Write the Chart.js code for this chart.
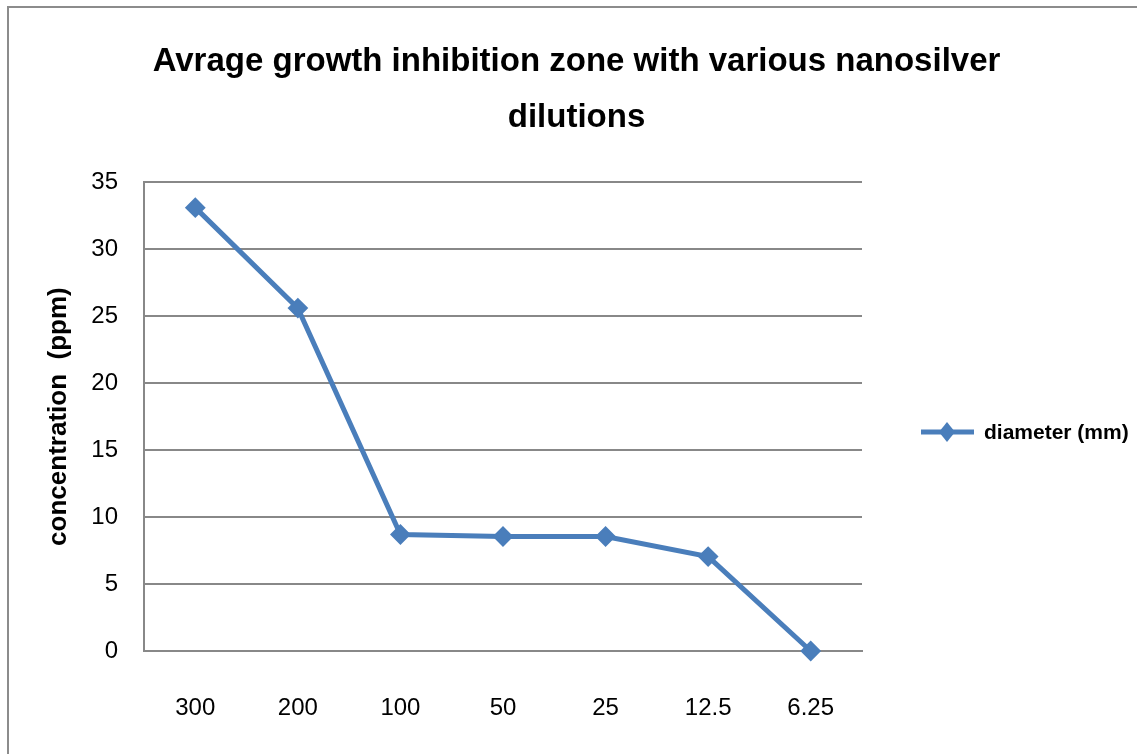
<!DOCTYPE html>
<html>
<head>
<meta charset="utf-8">
<script src="https://cdn.jsdelivr.net/npm/chart.js@4"></script>
<style>
  html, body { margin: 0; padding: 0; background: #fff; }
  #wrap { position: relative; width: 1137px; height: 754px; }
</style>
</head>
<body>
<div id="wrap"><canvas id="c" width="1137" height="754"></canvas></div>
<script>
const categories = ["300", "200", "100", "50", "25", "12.5", "6.25"];
const diameterValues = [33.1, 25.6, 8.7, 8.55, 8.55, 7.05, 0];
const yTicks = [0, 5, 10, 15, 20, 25, 30, 35];
const titleLines = ["Avrage growth inhibition zone with various nanosilver", "dilutions"];
const yAxisTitle = "concentration  (ppm)";
const seriesLabel = "diameter (mm)";

const SERIES_COLOR = "#4a7ebb";
const GRID_COLOR = "#888888";

const framePlugin = {
  id: "frame",
  beforeDraw(chart) {
    const ctx = chart.ctx;
    ctx.save();
    ctx.fillStyle = "#ffffff";
    ctx.fillRect(0, 0, chart.width, chart.height);
    ctx.strokeStyle = "#8c8c8c";
    ctx.lineWidth = 2;
    ctx.beginPath();
    ctx.moveTo(8, chart.height);
    ctx.lineTo(8, 7);
    ctx.lineTo(chart.width, 7);
    ctx.stroke();
    ctx.restore();
  }
};

const legendPlugin = {
  id: "sideLegend",
  afterDraw(chart) {
    const ctx = chart.ctx;
    const ds = chart.data.datasets[0];
    const y = 432;
    ctx.save();
    ctx.strokeStyle = ds.borderColor;
    ctx.lineWidth = 5;
    ctx.beginPath();
    ctx.moveTo(921, y);
    ctx.lineTo(974, y);
    ctx.stroke();
    ctx.fillStyle = ds.borderColor;
    ctx.beginPath();
    ctx.moveTo(947, y - 10);
    ctx.lineTo(955, y);
    ctx.lineTo(947, y + 10);
    ctx.lineTo(939, y);
    ctx.closePath();
    ctx.fill();
    ctx.fillStyle = "#000";
    ctx.font = "bold 21px 'Liberation Sans', sans-serif";
    ctx.textBaseline = "middle";
    ctx.textAlign = "left";
    ctx.fillText(ds.label, 984, y + 1);
    ctx.restore();
  }
};

new Chart(document.getElementById("c"), {
  type: "line",
  data: {
    labels: categories,
    datasets: [{
      label: seriesLabel,
      data: diameterValues,
      borderColor: SERIES_COLOR,
      backgroundColor: SERIES_COLOR,
      borderWidth: 5,
      pointStyle: "rectRot",
      pointRadius: 9,
      pointBorderWidth: 2,
      pointBackgroundColor: SERIES_COLOR,
      pointBorderColor: SERIES_COLOR,
      tension: 0,
      fill: false,
      clip: false,
      yAxisID: "y"
    }]
  },
  options: {
    responsive: false,
    animation: false,
    devicePixelRatio: 1,
    layout: { padding: { left: 16, right: 0, top: 0, bottom: 0 } },
    plugins: {
      legend: { display: false },
      tooltip: { enabled: false },
      title: {
        display: true,
        text: titleLines,
        color: "#000",
        font: { family: "'Liberation Sans', sans-serif", size: 33, weight: "bold", lineHeight: 1.7 },
        padding: { top: 34, bottom: 36 }
      }
    },
    scales: {
      x: {
        offset: true,
        grid: { display: false, drawTicks: false },
        border: { display: true, color: GRID_COLOR, width: 2 },
        ticks: {
          color: "#000",
          padding: 43,
          font: { family: "'Liberation Sans', sans-serif", size: 24 }
        },
        afterFit(scale) { scale.height = 103; }
      },
      y: {
        min: 0,
        max: 35,
        afterBuildTicks(scale) { scale.ticks = yTicks.map(v => ({ value: v })); },
        grid: { color: GRID_COLOR, lineWidth: 2, drawTicks: false },
        border: { display: true, color: GRID_COLOR, width: 2 },
        ticks: {
          color: "#000",
          padding: 26,
          font: { family: "'Liberation Sans', sans-serif", size: 24 }
        },
        title: {
          display: true,
          text: yAxisTitle,
          color: "#000",
          padding: { top: 27, bottom: 0 },
          font: { family: "'Liberation Sans', sans-serif", size: 26, weight: "bold" }
        },
        afterFit(scale) { scale.width = 128; }
      },
      legendSpace: {
        type: "linear",
        position: "right",
        display: true,
        grid: { display: false, drawTicks: false },
        border: { display: false },
        ticks: { display: false },
        afterFit(scale) { scale.width = 275; }
      }
    }
  },
  plugins: [framePlugin, legendPlugin]
});
</script>
</body>
</html>
